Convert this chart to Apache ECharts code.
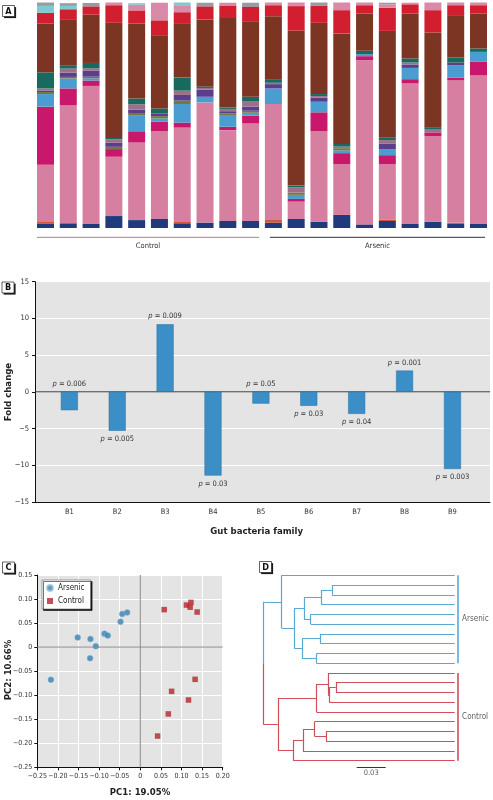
<!DOCTYPE html>
<html><head><meta charset="utf-8">
<script src="https://cdn.jsdelivr.net/npm/echarts/dist/echarts.min.js"></script>
<style>html,body{margin:0;padding:0;background:#fff}#c{width:493px;height:800px}</style>
</head><body><div id="c"></div>
<script>
// ---------- Panel A: relative abundance (%) per sample, bottom to top ----------
const samples = ['C1','C2','C3','C4','C5','C6','C7','C8','C9','C10','A1','A2','A3','A4','A5','A6','A7','A8','A9','A10'];
const taxonNavy    = [1.8,2.1,1.8,5.3,3.5,4.0,2.1,2.4,3.1,3.1, 2.4,4.0,2.8,5.8,1.6,3.1,1.8,2.8,1.8,1.8];
const taxonOrange  = [0.9,0,0,0,0,0,0.6,0,0,0, 1.2,0,0,0,0,0.7,0,0,0.6,0];
const taxonPink    = [25.3,52.3,61.2,26.3,34.4,39.0,41.8,53.3,40.3,43.3, 51.4,7.7,40.2,22.5,72.8,24.4,62.3,38.0,63.2,66.0];
const taxonMagenta = [25.8,7.5,2.4,3.4,5.0,4.1,2.2,0,1.5,3.4, 0,1.2,8.3,4.9,1.8,4.1,1.9,1.6,1.0,5.9];
const taxonBlue    = [5.6,4.4,1.0,0,6.9,1.5,8.3,2.5,5.2,1.3, 6.9,1.8,4.7,1.2,0.9,2.7,5.0,0,5.6,4.4];
const taxonOlive   = [0.9,0.7,0.7,1.0,1.2,1.0,1.5,0,0.7,0.9, 0,1.0,0,1.0,0,0,0,0,0,0];
const taxonPurple  = [0.7,1.9,2.7,1.8,1.5,1.2,2.5,3.2,1.0,1.8, 1.9,0,1.8,0,0,2.5,1.5,0,1.2,0];
const taxonMauve   = [0.9,1.8,1.0,1.5,2.4,0,1.9,0.7,1.0,2.5, 0.6,2.4,0.7,0.7,0,1.5,0.9,1.5,0,0];
const taxonTeal    = [7.1,1.5,2.4,0.6,2.5,2.2,5.8,0.7,0.6,1.9, 1.6,0.7,0.9,1.2,1.5,1.0,1.8,0.6,2.2,1.5];
const taxonBrown   = [21.7,20.4,21.4,51.1,33.2,32.2,23.8,29.7,39.7,33.2, 27.9,68.7,31.6,49.0,16.5,47.4,19.9,42.2,18.8,15.5];
const taxonRed     = [4.7,4.4,3.7,7.8,5.9,6.9,5.2,5.8,5.6,6.6, 4.9,10.9,7.5,10.3,3.7,10.3,4.1,9.9,4.4,3.7];
const taxonRose    = [0,0,0,1.2,2.5,7.8,3.1,0,1.2,0, 1.2,1.6,0,3.4,1.2,1.5,0.7,3.4,1.2,1.2];
const taxonCyan    = [3.1,1.5,0,0,0.7,0,1.3,0,0,0, 0,0,0,0,0,0,0,0,0,0];
const taxonGrey    = [1.5,1.2,1.5,0,0,0,0,1.6,0,1.9, 0,0,1.5,0,0,0.7,0,0,0,0];
const groupNames = ['Control','Arsenic'];

// ---------- Panel B ----------
const families = ['B1','B2','B3','B4','B5','B6','B7','B8','B9'];
const foldChange = [-2.5,-5.3,9.2,-11.4,-1.6,-1.9,-3.0,2.9,-10.5];
const pValues = ['0.006','0.005','0.009','0.03','0.05','0.03','0.04','0.001','0.003'];
const yTicksB = [-15,-10,-5,0,5,10,15];

// ---------- Panel C ----------
const arsenicPC1 = [-0.217,-0.152,-0.121,-0.108,-0.122,-0.087,-0.079,-0.048,-0.044,-0.032];
const arsenicPC2 = [-0.068,0.020,0.017,0.002,-0.023,0.028,0.024,0.053,0.069,0.072];
const controlPC1 = [0.058,0.112,0.123,0.121,0.138,0.133,0.076,0.117,0.068,0.042];
const controlPC2 = [0.078,0.0875,0.093,0.083,0.073,-0.067,-0.092,-0.110,-0.139,-0.185];

// ---------- Panel D: dendrogram (Newick, branch lengths) ----------
const treeNewick = '((a1:0.179,((((a2:0.127,a3:0.127):0.011,a4:0.138):0.018,(a5:0.149,a6:0.149):0.007):0.010,((a7:0.139,a8:0.139):0.019,(a9:0.143,a10:0.143):0.015):0.008):0.013):0.019,' +
  '(((c1:0.131,((c2:0.123,c3:0.123):0.007,c4:0.130):0.001):0.012,c5:0.143):0.040,(((c6:0.145,(c7:0.133,c8:0.133):0.012):0.012,c9:0.157):0.010,c10:0.167):0.016):0.015);';
const scaleBarLength = 0.03;

// =====================================================================
const FONT = "'Liberation Sans Narrow','DejaVu Sans Condensed','Roboto Condensed',Roboto,sans-serif";
const TXT = '#333';
const chart = echarts.init(document.getElementById('c'), null, {renderer:'canvas'});

const taxa = [
  ['navy', taxonNavy, '#1f3b7c'], ['orange', taxonOrange, '#d4553a'], ['pink', taxonPink, '#d67fa1'],
  ['magenta', taxonMagenta, '#c9186b'], ['blue', taxonBlue, '#4b9cd0'], ['olive', taxonOlive, '#727a3c'],
  ['purple', taxonPurple, '#5b3d8c'], ['mauve', taxonMauve, '#9c7089'], ['teal', taxonTeal, '#18695e'],
  ['brown', taxonBrown, '#7b3522'], ['red', taxonRed, '#d21f30'], ['rose', taxonRose, '#d98aa8'],
  ['cyan', taxonCyan, '#7fcad0'], ['grey', taxonGrey, '#9a9aa6']
];

// dendrogram parse + layout
function parseNewick(s){
  let i = 0;
  function node(){
    const n = {children:[], name:'', len:0};
    if (s[i] === '('){
      i++; n.children.push(node());
      while (s[i] === ','){ i++; n.children.push(node()); }
      i++;
    }
    let name = '';
    while (i < s.length && !':,);'.includes(s[i])) name += s[i++];
    n.name = name;
    if (s[i] === ':'){ i++; let num=''; while (i < s.length && !',);'.includes(s[i])) num += s[i++]; n.len = parseFloat(num); }
    return n;
  }
  return node();
}
const root = parseNewick(treeNewick);
let leafCounter = 0;
function layout(n, depth){
  n.x = depth + n.len;
  if (!n.children.length){ n.y = leafCounter++; }
  else { n.children.forEach(c => layout(c, n.x)); n.y = (n.children[0].y + n.children[n.children.length-1].y)/2; }
}
layout(root, 0);
const BLUE = '#5aa9d3', RED = '#cf4f5a';
const segs = [];
let maxDepth = 0;
function collect(n, color){
  if (!n.children.length){ maxDepth = Math.max(maxDepth, n.x); return; }
  const first = n.children[0], last = n.children[n.children.length-1];
  segs.push({coords:[[n.x, first.y],[n.x, last.y]], lineStyle:{color}});
  n.children.forEach(c => { segs.push({coords:[[n.x, c.y],[c.x, c.y]], lineStyle:{color}}); collect(c, color); });
}
const blueClade = root.children[0], redClade = root.children[1];
function countLeaves(n){ return n.children.length ? n.children.reduce((a,c)=>a+countLeaves(c),0) : 1; }
const nBlue = countLeaves(blueClade), nRed = countLeaves(redClade);
segs.push({coords:[[root.x, blueClade.y],[root.x, nBlue-1]], lineStyle:{color:BLUE}});
segs.push({coords:[[root.x, nBlue-1],[root.x, redClade.y]], lineStyle:{color:RED}});
segs.push({coords:[[root.x, blueClade.y],[blueClade.x, blueClade.y]], lineStyle:{color:BLUE}});
segs.push({coords:[[root.x, redClade.y],[redClade.x, redClade.y]], lineStyle:{color:RED}});
collect(blueClade, BLUE); collect(redClade, RED);
const barX = maxDepth + 0.0035;
segs.push({coords:[[barX, 0],[barX, nBlue-1]], lineStyle:{color:BLUE, width:1.6}});
segs.push({coords:[[barX, nBlue],[barX, nBlue+nRed-1]], lineStyle:{color:RED, width:1.6}});
const sbStart = 0.0966, sbY = 19.65;

function tickFmt(v){
  if (Math.abs(v) < 1e-9) return '0';
  return (v < 0 ? '\u2212' : '') + Math.abs(v).toFixed(2);
}
function intFmt(v){ return (v < 0 ? '\u2212' : '') + Math.abs(v); }

const bLabelAtZero = {0:true, 4:true};

const option = {
  animation: false,
  textStyle: {fontFamily: FONT},
  grid: [
    {left: 34.1, top: 2.5, width: 455.8, height: 225.5},
    {left: 35, top: 281.7, width: 455, height: 220.3, show: true, backgroundColor: '#e4e4e4', borderWidth: 0},
    {left: 45.4, top: 281.7, width: 431, height: 220.3},
    {left: 37.3, top: 575, width: 185.4, height: 192.3, show: true, backgroundColor: '#e4e4e4', borderWidth: 0},
    {left: 263.3, top: 575.3, width: 212.7, height: 195.2}
  ],
  xAxis: [
    {gridIndex:0, type:'category', data: samples, show:false},
    {gridIndex:1, type:'value', min:0, max:1, axisLine:{show:true, onZero:false, lineStyle:{color:'#111', width:1}},
     axisTick:{show:false}, axisLabel:{show:false}, splitLine:{show:false}},
    {gridIndex:2, type:'category', data: families, axisLine:{show:false}, axisTick:{show:false},
     axisLabel:{color:TXT, fontSize:7.5, margin:6}},
    {gridIndex:3, type:'value', min:-0.25, max:0.2, interval:0.05,
     axisLine:{show:true, onZero:false, lineStyle:{color:'#111', width:1}},
     axisTick:{show:true, length:3, lineStyle:{color:'#111'}},
     axisLabel:{color:TXT, fontSize:7, margin:5, formatter: tickFmt},
     splitLine:{show:true, lineStyle:{color:'#fff', width:1}}},
    {gridIndex:4, type:'value', min:0, max:0.22, show:false}
  ],
  yAxis: [
    {gridIndex:0, type:'value', min:0, max:100, show:false},
    {gridIndex:1, type:'value', min:-15, max:15, interval:5,
     axisLine:{show:true, lineStyle:{color:'#111', width:1}},
     axisTick:{show:true, length:3, lineStyle:{color:'#111'}},
     axisLabel:{color:TXT, fontSize:7.5, margin:6, formatter: intFmt},
     splitLine:{show:true, lineStyle:{color:'#fff', width:1}}},
    {gridIndex:2, type:'value', min:-15, max:15, show:false},
    {gridIndex:3, type:'value', min:-0.25, max:0.15, interval:0.05,
     axisLine:{show:true, onZero:false, lineStyle:{color:'#111', width:1}},
     axisTick:{show:true, length:3, lineStyle:{color:'#111'}},
     axisLabel:{color:TXT, fontSize:7, margin:5, formatter: tickFmt},
     splitLine:{show:true, lineStyle:{color:'#fff', width:1}}},
    {gridIndex:4, type:'value', min:0, max:20, inverse:true, show:false}
  ],
  legend: {
    data: ['Arsenic','Control'], left: 42, top: 580, orient: 'vertical',
    itemWidth: 6, itemHeight: 6, itemGap: 5, padding: [4,6,4,4],
    textStyle: {fontSize: 8, color: '#222', fontFamily: FONT},
    backgroundColor: '#fff', borderColor: '#666', borderWidth: 0.6,
    shadowColor: 'rgba(0,0,0,0.9)', shadowOffsetX: 1.5, shadowOffsetY: 1.5, shadowBlur: 0
  },
  series: [
    ...taxa.map(([nm, arr, col]) => ({
      name: 'taxon-' + nm, type:'bar', stack:'A', xAxisIndex:0, yAxisIndex:0,
      barWidth: 17, data: arr, itemStyle:{color: col}, silent:true
    })),
    {type:'line', xAxisIndex:1, yAxisIndex:1, data:[[0,0],[1,0]], symbol:'none',
     lineStyle:{color:'#333', width:1}, silent:true, z:1},
    {type:'bar', xAxisIndex:2, yAxisIndex:2, barWidth:17, z:3,
     itemStyle:{color:'#3b8fc6', borderColor:'#2b6c9c', borderWidth:0.5},
     data: foldChange.map((v,i) => ({value:v, label:{position: bLabelAtZero[i] ? 'top' : (v < 0 ? 'bottom' : 'top')}})),
     label:{show:true, distance:4, color:TXT, fontSize:7.5,
       formatter: p => '{i|p} = ' + pValues[p.dataIndex],
       rich:{i:{fontStyle:'italic', fontSize:7.5, color:TXT, fontFamily:FONT}}}},
    {type:'line', xAxisIndex:3, yAxisIndex:3, data:[[0,-0.25],[0,0.15]], symbol:'none',
     lineStyle:{color:'#888', width:1}, silent:true},
    {type:'line', xAxisIndex:3, yAxisIndex:3, data:[[-0.25,0],[0.2,0]], symbol:'none',
     lineStyle:{color:'#888', width:1}, silent:true},
    {name:'Arsenic', type:'scatter', xAxisIndex:3, yAxisIndex:3, symbol:'circle', symbolSize:6,
     itemStyle:{color:'#3581b2', borderColor:'#9cc3dc', borderWidth:0.5},
     data: arsenicPC1.map((x,i) => [x, arsenicPC2[i]])},
    {name:'Control', type:'scatter', xAxisIndex:3, yAxisIndex:3, symbol:'rect', symbolSize:5.5,
     itemStyle:{color:'#b1252b'},
     data: controlPC1.map((x,i) => [x, controlPC2[i]])},
    {type:'lines', coordinateSystem:'cartesian2d', xAxisIndex:4, yAxisIndex:4, polyline:false,
     lineStyle:{width:1.2, opacity:1}, data: segs, silent:true},
    {type:'lines', coordinateSystem:'cartesian2d', xAxisIndex:4, yAxisIndex:4,
     lineStyle:{width:1, color:'#333', opacity:1},
     data:[{coords:[[sbStart, sbY],[sbStart + scaleBarLength, sbY]]}], silent:true},
    {type:'scatter', xAxisIndex:4, yAxisIndex:4, symbolSize:0, silent:true,
     label:{show:true, position:'right', distance:4, color:TXT, fontSize:8, formatter: p => p.data[2]},
     data:[[barX, (nBlue-1)/2, 'Arsenic'], [barX, nBlue + (nRed-1)/2, 'Control']]},
    {type:'scatter', xAxisIndex:4, yAxisIndex:4, symbolSize:0, silent:true,
     label:{show:true, position:'bottom', distance:2, color:TXT, fontSize:7.5, formatter: () => String(scaleBarLength)},
     data:[[sbStart + scaleBarLength/2, sbY]]}
  ]
};
chart.setOption(option);

function panelLabel(letter, x, y){
  return {type:'group', x, y, children:[
    {type:'rect', shape:{x:1.6, y:1.6, width:12, height:11}, style:{fill:'#1a1a1a'}},
    {type:'rect', shape:{x:0, y:0, width:12, height:11}, style:{fill:'#fff', stroke:'#222', lineWidth:0.7}},
    {type:'text', x:6, y:5.8, style:{text:letter, fontSize:9, fontWeight:'bold', fill:'#111', align:'center', verticalAlign:'middle', fontFamily:FONT}}
  ]};
}
const px = i => chart.convertToPixel({xAxisIndex:0}, i);
const ctrlL = px(0) - 8.5, ctrlR = px(9) + 8.5;
const arsL = px(10) - 3.5, arsR = px(19) + 6.5;
const lineY = 237.3;
chart.setOption({graphic: [
  panelLabel('A', 2.5, 5.5), panelLabel('B', 2, 282), panelLabel('C', 2.5, 562), panelLabel('D', 259.5, 561.5),
  {type:'line', shape:{x1:ctrlL, y1:lineY, x2:ctrlR, y2:lineY}, style:{stroke:'#c9776f', lineWidth:1}},
  {type:'line', shape:{x1:arsL, y1:lineY, x2:arsR, y2:lineY}, style:{stroke:'#333', lineWidth:1}},
  {type:'text', x:(ctrlL+ctrlR)/2, y:246.5, style:{text:groupNames[0], fontSize:7.5, fill:TXT, align:'center', verticalAlign:'middle', fontFamily:FONT}},
  {type:'text', x:(arsL+arsR)/2, y:246.5, style:{text:groupNames[1], fontSize:7.5, fill:TXT, align:'center', verticalAlign:'middle', fontFamily:FONT}},
  {type:'text', x:8.5, y:392, rotation:Math.PI/2, style:{text:'Fold change', fontSize:9.5, fontWeight:'bold', fill:'#222', align:'center', verticalAlign:'middle', fontFamily:FONT}},
  {type:'text', x:256.7, y:531.7, style:{text:'Gut bacteria family', fontSize:9.5, fontWeight:'bold', fill:'#222', align:'center', verticalAlign:'middle', fontFamily:FONT}},
  {type:'text', x:8.5, y:670, rotation:Math.PI/2, style:{text:'PC2: 10.66%', fontSize:9.5, fontWeight:'bold', fill:'#222', align:'center', verticalAlign:'middle', fontFamily:FONT}},
  {type:'text', x:140, y:793, style:{text:'PC1: 19.05%', fontSize:9.5, fontWeight:'bold', fill:'#222', align:'center', verticalAlign:'middle', fontFamily:FONT}}
]});
</script>
</body></html>
